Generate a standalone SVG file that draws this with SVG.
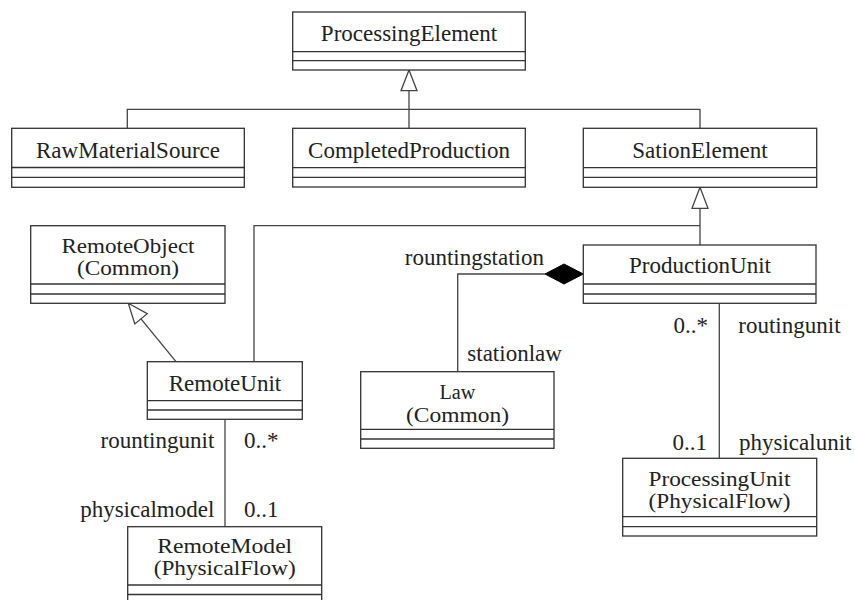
<svg xmlns="http://www.w3.org/2000/svg" width="855" height="600" viewBox="0 0 855 600">
<defs>
<style>
.box{fill:#fff;stroke:#333;stroke-width:1.3}
.div{stroke:#333;stroke-width:1.3}
.ln{fill:none;stroke:#444;stroke-width:1.3}
.tri{fill:#fff;stroke:#444;stroke-width:1.3}
.dia{fill:#000;stroke:#000;stroke-width:1}
text{font-family:"Liberation Serif","Times New Roman",serif;font-size:23px;fill:#222}
.t2{font-size:20.5px}
.c{text-anchor:middle}
.e{text-anchor:end}
</style>
</defs>
<rect width="855" height="600" fill="#fff"/>
<g id="connectors">
<polyline class="ln" points="409,90.7 409,128.3"/>
<polyline class="ln" points="127.3,128.3 127.3,109.3 700,109.3 700,128.3"/>
<polygon class="tri" points="409,70 401,90.7 417,90.7"/>
<polyline class="ln" points="700,208.3 700,245"/>
<polyline class="ln" points="254,361.7 254,225.7 700,225.7"/>
<polygon class="tri" points="700,187.3 692,208.3 708,208.3"/>
<line class="ln" x1="141" y1="318.8" x2="176" y2="361.7"/>
<polygon class="tri" points="128.3,303.3 134.8,323.9 147.2,313.7"/>
<polyline class="ln" points="545,274 457.7,274 457.7,371.7"/>
<polygon class="dia" points="583.3,274 564,264 545,274 564,284"/>
<line class="ln" x1="719.3" y1="303.3" x2="719.3" y2="458.3"/>
<line class="ln" x1="225" y1="419.3" x2="225" y2="526.7"/>
<text class="e" x="544" y="265">rountingstation</text>
<text x="467.3" y="360.7">stationlaw</text>
<text class="e" x="708" y="333">0..*</text>
<text x="738.3" y="333">routingunit</text>
<text class="e" x="707" y="450">0..1</text>
<text x="739" y="450">physicalunit</text>
<text class="e" x="214.3" y="448.3">rountingunit</text>
<text x="244" y="448.3">0..*</text>
<text class="e" x="214.3" y="516.7">physicalmodel</text>
<text x="244" y="516.7">0..1</text>
</g>
<g id="ProcessingElement">
<rect class="box" x="292.7" y="12" width="232.6" height="58"/>
<line class="div" x1="292.7" y1="51.7" x2="525.3" y2="51.7"/>
<line class="div" x1="292.7" y1="60.7" x2="525.3" y2="60.7"/>
<text class="c" x="409" y="40.7">ProcessingElement</text>
</g>
<g id="RawMaterialSource">
<rect class="box" x="11.7" y="128.3" width="232.6" height="59"/>
<line class="div" x1="11.7" y1="167.5" x2="244.3" y2="167.5"/>
<line class="div" x1="11.7" y1="177.3" x2="244.3" y2="177.3"/>
<text class="c" x="128" y="158.3">RawMaterialSource</text>
</g>
<g id="CompletedProduction">
<rect class="box" x="292.7" y="128.3" width="232.6" height="58.7"/>
<line class="div" x1="292.7" y1="167.7" x2="525.3" y2="167.7"/>
<line class="div" x1="292.7" y1="177.3" x2="525.3" y2="177.3"/>
<text class="c" x="409" y="158.3">CompletedProduction</text>
</g>
<g id="SationElement">
<rect class="box" x="583.3" y="128.3" width="233.4" height="59"/>
<line class="div" x1="583.3" y1="167.7" x2="816.7" y2="167.7"/>
<line class="div" x1="583.3" y1="177.3" x2="816.7" y2="177.3"/>
<text class="c" x="700" y="158.3">SationElement</text>
</g>
<g id="RemoteObject">
<rect class="box" x="30.7" y="225.7" width="194.3" height="77.6"/>
<line class="div" x1="30.7" y1="284" x2="225" y2="284"/>
<line class="div" x1="30.7" y1="294" x2="225" y2="294"/>
<text class="c t2" x="128" y="252.5" textLength="133" lengthAdjust="spacingAndGlyphs">RemoteObject</text>
<text class="c t2" x="128" y="275" textLength="102" lengthAdjust="spacingAndGlyphs">(Common)</text>
</g>
<g id="ProductionUnit">
<rect class="box" x="583.3" y="245" width="232.7" height="58.3"/>
<line class="div" x1="583.3" y1="284" x2="816" y2="284"/>
<line class="div" x1="583.3" y1="294" x2="816" y2="294"/>
<text class="c" x="700" y="273.3">ProductionUnit</text>
</g>
<g id="RemoteUnit">
<rect class="box" x="147.3" y="361.7" width="155" height="57.6"/>
<line class="div" x1="147.3" y1="400.7" x2="302.3" y2="400.7"/>
<line class="div" x1="147.3" y1="410" x2="302.3" y2="410"/>
<text class="c" x="225" y="390.7">RemoteUnit</text>
</g>
<g id="Law">
<rect class="box" x="360.7" y="371.7" width="193.3" height="76.6"/>
<line class="div" x1="360.7" y1="429.3" x2="554" y2="429.3"/>
<line class="div" x1="360.7" y1="439" x2="554" y2="439"/>
<text class="c t2" x="457.5" y="399" textLength="36" lengthAdjust="spacingAndGlyphs">Law</text>
<text class="c t2" x="457.5" y="421.5" textLength="103" lengthAdjust="spacingAndGlyphs">(Common)</text>
</g>
<g id="ProcessingUnit">
<rect class="box" x="622.7" y="458.3" width="194" height="77.7"/>
<line class="div" x1="622.7" y1="516.7" x2="816.7" y2="516.7"/>
<line class="div" x1="622.7" y1="526.7" x2="816.7" y2="526.7"/>
<text class="c t2" x="719.5" y="485.5" textLength="142" lengthAdjust="spacingAndGlyphs">ProcessingUnit</text>
<text class="c t2" x="719.5" y="508" textLength="142" lengthAdjust="spacingAndGlyphs">(PhysicalFlow)</text>
</g>
<g id="RemoteModel">
<rect class="box" x="127.7" y="526.7" width="194" height="78"/>
<line class="div" x1="127.7" y1="585" x2="321.7" y2="585"/>
<line class="div" x1="127.7" y1="594.5" x2="321.7" y2="594.5"/>
<text class="c t2" x="224.7" y="552.5" textLength="135" lengthAdjust="spacingAndGlyphs">RemoteModel</text>
<text class="c t2" x="224.7" y="575" textLength="142" lengthAdjust="spacingAndGlyphs">(PhysicalFlow)</text>
</g>
</svg>
